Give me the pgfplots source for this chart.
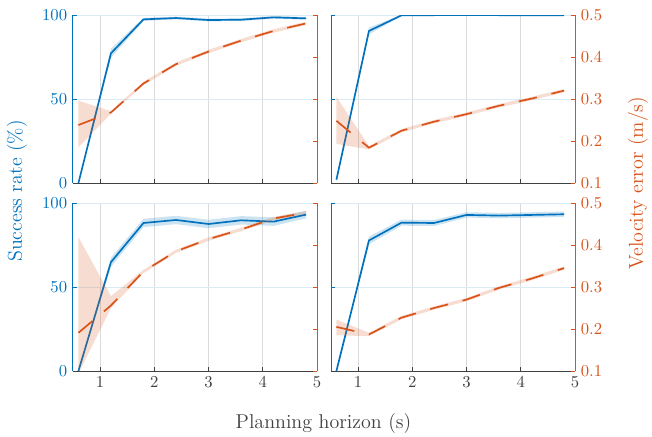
\documentclass[border=0pt]{standalone}
\usepackage{pgfplots}
\pgfplotsset{compat=1.18}
\usepackage{pgfplotstable}
\definecolor{mblue}{RGB}{0,114,189}
\definecolor{morange}{RGB}{217,83,25}
\definecolor{axgray}{RGB}{64,64,64}

% lines: x, success, velocity error
\pgfplotstableread{
x s v
0.6 0 0.238
1.2 77.2 0.268
1.8 97.4 0.337
2.4 98.2 0.383
3.0 97.0 0.413
3.6 97.2 0.439
4.2 98.6 0.462
4.8 98.0 0.480
}\TL
\pgfplotstableread{
x s v
0.6 2 0.248
1.2 90.5 0.184
1.8 99.8 0.2245
2.4 99.9 0.246
3.0 100 0.264
3.6 99.9 0.284
4.2 99.9 0.301
4.8 99.9 0.320
}\TR
\pgfplotstableread{
x s v
0.6 0 0.191
1.2 64.8 0.256
1.8 88.1 0.337
2.4 89.9 0.385
3.0 87.5 0.414
3.6 89.7 0.437
4.2 88.9 0.463
4.8 93.1 0.477
}\BL
\pgfplotstableread{
x s v
0.6 0 0.205
1.2 77.7 0.187
1.8 88.3 0.227
2.4 88.1 0.250
3.0 92.9 0.270
3.6 92.5 0.298
4.2 92.9 0.320
4.8 93.3 0.345
}\BR
% bands: upper edge, then lower edge reversed
\pgfplotstableread{
x y
0.6 0
1.2 80
1.8 98.3
2.4 99
3.0 97.8
3.6 98
4.2 99.4
4.8 98.8
4.8 97.2
4.2 97.8
3.6 96.4
3.0 96.2
2.4 97.4
1.8 96.5
1.2 74.5
0.6 0
}\TLs
\pgfplotstableread{
x y
0.6 0.296
1.2 0.271
1.8 0.341
2.4 0.387
3.0 0.417
3.6 0.443
4.2 0.466
4.8 0.484
4.8 0.476
4.2 0.458
3.6 0.435
3.0 0.409
2.4 0.379
1.8 0.333
1.2 0.265
0.6 0.185
}\TLv
\pgfplotstableread{
x y
0.6 2.5
1.2 92.5
1.8 100
2.4 100
3.0 100
3.6 100
4.2 100
4.8 100
4.8 99.6
4.2 99.6
3.6 99.6
3.0 99.7
2.4 99.6
1.8 99.4
1.2 88.5
0.6 1.5
}\TRs
\pgfplotstableread{
x y
0.6 0.305
1.2 0.188
1.8 0.2285
2.4 0.250
3.0 0.268
3.6 0.288
4.2 0.305
4.8 0.324
4.8 0.316
4.2 0.297
3.6 0.280
3.0 0.260
2.4 0.242
1.8 0.2205
1.2 0.180
0.6 0.193
}\TRv
\pgfplotstableread{
x y
0.6 0
1.2 67.5
1.8 90.6
2.4 92.4
3.0 90
3.6 92.2
4.2 91.4
4.8 95.3
4.8 90.9
4.2 86.4
3.6 87.2
3.0 85
2.4 87.4
1.8 85.6
1.2 62
0.6 0
}\BLs
\pgfplotstableread{
x y
0.6 0.419
1.2 0.278
1.8 0.341
2.4 0.389
3.0 0.418
3.6 0.441
4.2 0.467
4.8 0.481
4.8 0.473
4.2 0.459
3.6 0.433
3.0 0.410
2.4 0.381
1.8 0.333
1.2 0.250
0.6 0.094
}\BLv
\pgfplotstableread{
x y
0.6 0
1.2 80
1.8 90.1
2.4 89.9
3.0 94.5
3.6 94.1
4.2 94.5
4.8 94.9
4.8 91.7
4.2 91.3
3.6 90.9
3.0 91.3
2.4 86.3
1.8 86.5
1.2 75.5
0.6 0
}\BRs
\pgfplotstableread{
x y
0.6 0.2225
1.2 0.191
1.8 0.231
2.4 0.254
3.0 0.274
3.6 0.302
4.2 0.324
4.8 0.349
4.8 0.341
4.2 0.316
3.6 0.294
3.0 0.266
2.4 0.246
1.8 0.223
1.2 0.183
0.6 0.185
}\BRv

\pgfplotsset{
  base/.style={scale only axis, width=146.4pt, height=100.8pt,
    xmin=0.5, xmax=5, xtick={1,2,3,4,5},
    tick align=inside, major tick length=2.2pt,
    anchor=south west, axis line style={-}},
  sr/.style={base, ymin=0, ymax=100, ytick={0,50,100},
    axis x line*=bottom, axis y line*=left,
    x axis line style={axgray, line width=0.6pt},
    y axis line style={mblue, line width=0.6pt},
    xtick style={axgray, line width=0.6pt},
    ytick style={mblue, line width=0.6pt},
    xticklabel style={axgray},
    yticklabel style={mblue},
    xmajorgrids, ymajorgrids,
    x grid style={black!14, line width=0.6pt},
    y grid style={mblue!14, line width=0.6pt}},
  ve/.style={base, ymin=0.1, ymax=0.5, ytick={0.1,0.2,0.3,0.4,0.5},
    axis y line*=right, axis x line=none,
    y axis line style={morange, line width=0.6pt},
    ytick style={morange, line width=0.6pt},
    yticklabel style={morange, /pgf/number format/.cd, fixed, fixed zerofill, precision=1}},
  sline/.style={mblue, line width=1pt},
  vline/.style={morange, line width=1pt, dash pattern=on 11pt off 9pt},
  sband/.style={fill=mblue, fill opacity=0.2, draw=none},
  vband/.style={fill=morange, fill opacity=0.2, draw=none},
}

\begin{document}
\begin{tikzpicture}
\useasboundingbox (0pt,0pt) rectangle (391.2pt,-262.2pt);
% ---- top left
\begin{axis}[sr, at={(43.8pt,-109.8pt)}, xticklabels={}]
  \addplot[sband] table[x=x,y=y]{\TLs};
  \addplot[sline] table[x=x,y=s]{\TL};
\end{axis}
\begin{axis}[ve, at={(43.8pt,-109.8pt)}, yticklabels={}]
  \addplot[vband] table[x=x,y=y]{\TLv};
  \addplot[vline] table[x=x,y=v]{\TL};
\end{axis}
% ---- top right
\begin{axis}[sr, at={(198.6pt,-109.8pt)}, xticklabels={}, yticklabels={}]
  \addplot[sband] table[x=x,y=y]{\TRs};
  \addplot[sline] table[x=x,y=s]{\TR};
\end{axis}
\begin{axis}[ve, at={(198.6pt,-109.8pt)}]
  \addplot[vband] table[x=x,y=y]{\TRv};
  \addplot[vline] table[x=x,y=v]{\TR};
\end{axis}
% ---- bottom left
\begin{axis}[sr, at={(43.8pt,-222.6pt)}]
  \addplot[sband] table[x=x,y=y]{\BLs};
  \addplot[sline] table[x=x,y=s]{\BL};
\end{axis}
\begin{axis}[ve, at={(43.8pt,-222.6pt)}, yticklabels={}]
  \addplot[vband] table[x=x,y=y]{\BLv};
  \addplot[vline] table[x=x,y=v]{\BL};
\end{axis}
% ---- bottom right
\begin{axis}[sr, at={(198.6pt,-222.6pt)}, yticklabels={}]
  \addplot[sband] table[x=x,y=y]{\BRs};
  \addplot[sline] table[x=x,y=s]{\BR};
\end{axis}
\begin{axis}[ve, at={(198.6pt,-222.6pt)}]
  \addplot[vband] table[x=x,y=y]{\BRv};
  \addplot[vline] table[x=x,y=v]{\BR};
\end{axis}
\node[rotate=90, mblue, font=\large] at (10.2pt,-114.6pt) {Success rate (\%)};
\node[rotate=90, morange, font=\large] at (382.8pt,-109.8pt) {Velocity error (m/s)};
\node[axgray, font=\large] at (194.1pt,-254.4pt) {Planning horizon (s)};
\end{tikzpicture}
\end{document}
